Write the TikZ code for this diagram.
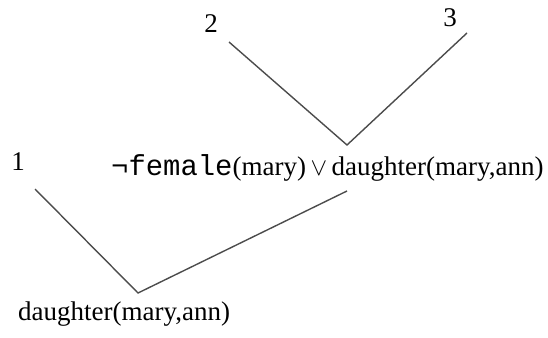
\documentclass[tikz,border=0pt]{standalone}
\usepackage{fontspec}
\setmainfont{Liberation Serif}
\setmonofont[Scale=1.07]{Liberation Mono}
\begin{document}
\begin{tikzpicture}[x=1pt,y=-1pt,
  lbl/.style={inner sep=0pt, font=\fontsize{27}{31}\selectfont},
  edge/.style={draw=black!70, line width=1.4pt}]
\useasboundingbox (0,0) rectangle (548,337);
\node[lbl] (n2) at (211,24) {2};
\node[lbl] (n3) at (450,18) {3};
\node[lbl] (n1) at (18,162) {1};
\node[lbl, anchor=base west] (mid) at (111,175) {\texttt{¬female}(mary)\,$\vee$\,daughter(mary,ann)};
\node[lbl, anchor=base west] (bot) at (18,320) {daughter(mary,ann)};
\coordinate (a2) at (229,42);
\coordinate (a3) at (467,33);
\coordinate (v1) at (347,145);
\coordinate (a1) at (35,189);
\coordinate (m1) at (347,191);
\coordinate (v2) at (138,293);
\draw[edge] (a2) -- (v1) -- (a3);
\draw[edge] (a1) -- (v2) -- (m1);
\end{tikzpicture}
\end{document}
